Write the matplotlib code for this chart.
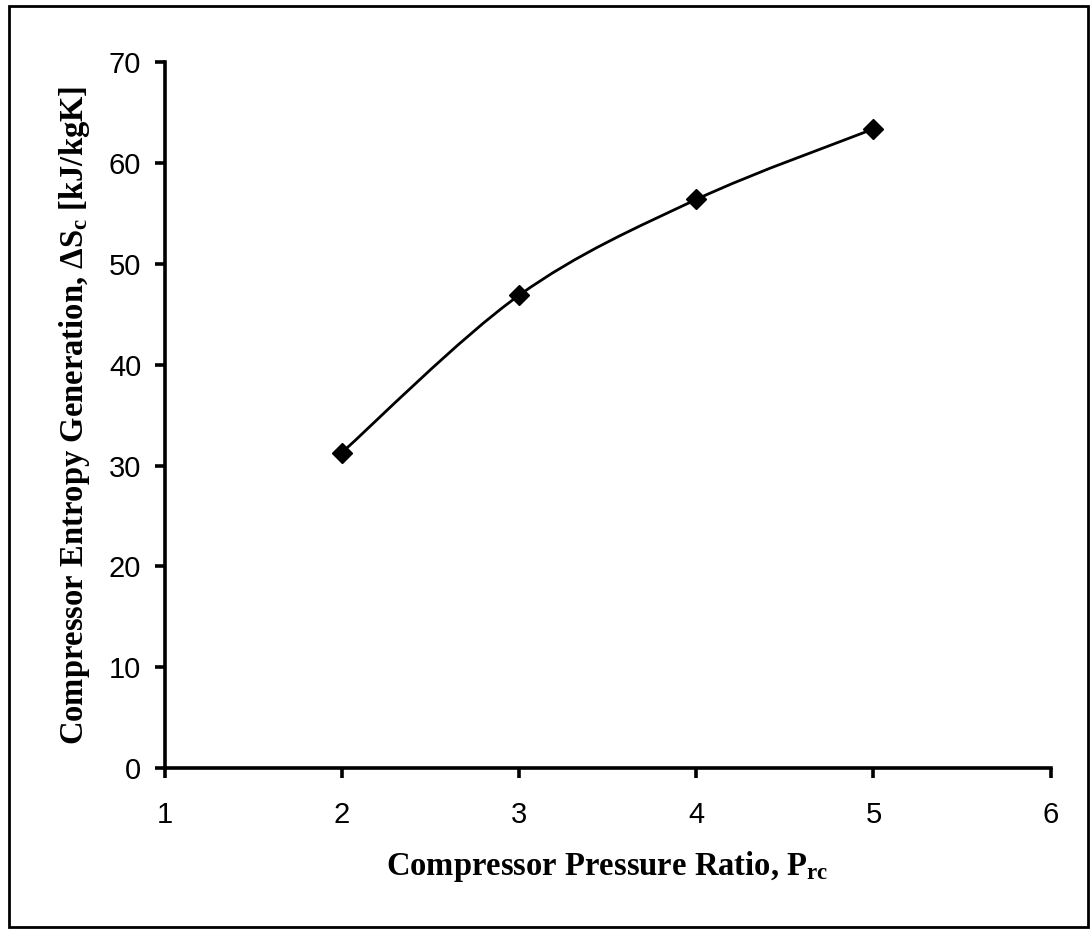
import matplotlib
matplotlib.use("Agg")
import matplotlib.pyplot as plt
import numpy as np
from matplotlib.path import Path
from matplotlib.patches import PathPatch, Rectangle

pressure_ratio = [2, 3, 4, 5]
entropy_gen = [31.3, 46.9, 56.4, 63.4]

x_ticks = [1, 2, 3, 4, 5, 6]
y_ticks = [0, 10, 20, 30, 40, 50, 60, 70]

plt.rcParams['mathtext.default'] = 'regular'


def smooth_path(xs, ys):
    """Bezier curve through the points, like a spreadsheet 'smoothed line'."""
    pts = np.column_stack([xs, ys]).astype(float)
    verts = [pts[0]]
    codes = [Path.MOVETO]
    n = len(pts)
    for i in range(n - 1):
        p0 = pts[i - 1] if i > 0 else pts[i]
        p1 = pts[i]
        p2 = pts[i + 1]
        p3 = pts[i + 2] if i + 2 < n else pts[i + 1]
        c1 = p1 + (p2 - p0) / 6.0
        c2 = p2 - (p3 - p1) / 6.0
        verts += [c1, c2, p2]
        codes += [Path.CURVE4] * 3
    return Path(verts, codes)


fig = plt.figure(figsize=(10.91, 9.31), dpi=100)
ax = fig.add_axes([0.151, 0.175, 0.812, 0.758])

ax.add_patch(PathPatch(smooth_path(pressure_ratio, entropy_gen),
                       facecolor='none', edgecolor='black', lw=2))
ax.plot(pressure_ratio, entropy_gen, linestyle='none', marker='D',
        color='black', markersize=10)

ax.set_xlim(1, 6)
ax.set_ylim(0, 70)
ax.set_xticks(x_ticks)
ax.set_yticks(y_ticks)

for side in ['top', 'right']:
    ax.spines[side].set_visible(False)
for side in ['left', 'bottom']:
    ax.spines[side].set_linewidth(2.6)

ax.tick_params(direction='out', length=7, width=2.6, labelsize=21)
ax.tick_params(axis='x', pad=17)
ax.tick_params(axis='y', pad=10)
for lab in ax.get_xticklabels() + ax.get_yticklabels():
    lab.set_family('Liberation Sans')

label_font = dict(family='Liberation Serif', weight='bold', size=23.5)
ax.set_xlabel('Compressor Pressure Ratio, P$_{rc}$', labelpad=14, **label_font)
ax.set_ylabel('Compressor Entropy Generation, \u0394S$_c$ [kJ/kgK]',
              labelpad=12, **label_font)

fig.patches.append(Rectangle((0.008, 0.004), 0.989, 0.99, transform=fig.transFigure,
                             fill=False, edgecolor='black', lw=2))

fig.savefig('out.png', dpi=100)
